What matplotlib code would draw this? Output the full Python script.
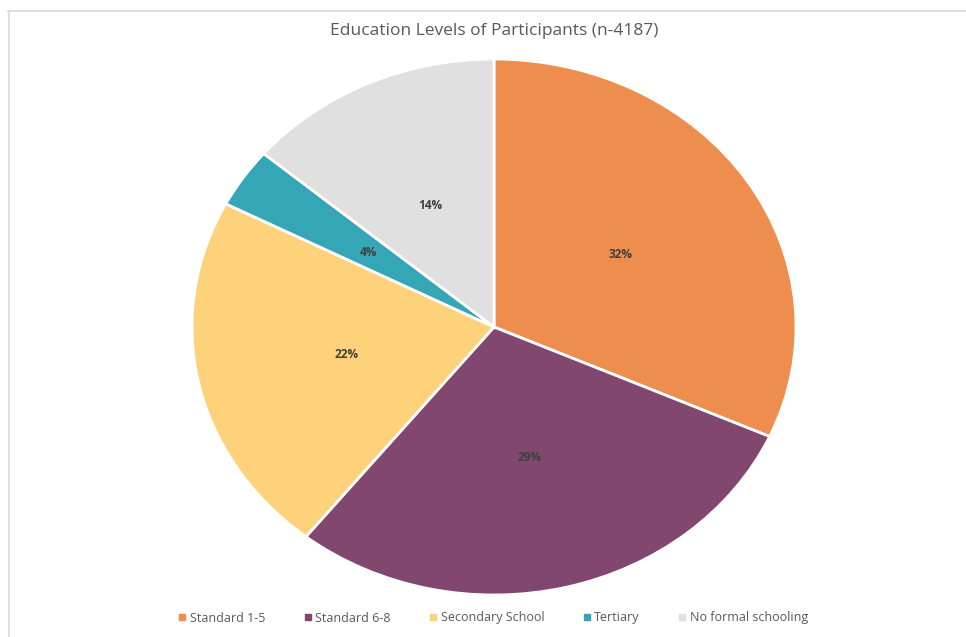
import matplotlib.pyplot as plt
from matplotlib.lines import Line2D

# Data (percent of participants)
categories = ['Standard 1-5', 'Standard 6-8', 'Secondary School', 'Tertiary', 'No formal schooling']
shares = [31.7, 29.0, 21.9, 3.6, 13.8]
colors = ['#ED8E4F', '#82476F', '#FED27A', '#35A6B5', '#E0E0E0']

plt.rcParams['font.family'] = ['Open Sans', 'DejaVu Sans']

fig = plt.figure(figsize=(9.66, 6.37), dpi=100)

# pie is a little wider than tall in the reference
cx, cy = 494 / 966, 1 - 327 / 637
rx, ry = 302 / 966, 268 / 637
ax = fig.add_axes([cx - rx, cy - ry, 2 * rx, 2 * ry])

wedges, texts, autotexts = ax.pie(
    shares, colors=colors, startangle=90, counterclock=False,
    autopct='%.0f%%', pctdistance=0.5,
    wedgeprops=dict(edgecolor='white', linewidth=2),
    textprops=dict(fontsize=8.5, fontweight='bold', color='#404040'))
ax.set_aspect('auto')
ax.set_xlim(-1, 1)
ax.set_ylim(-1, 1)

fig.text(cx, 1 - 31 / 637, 'Education Levels of Participants (n-4187)',
         ha='center', va='center', fontsize=12.5, color='#595959')

handles = [Line2D([], [], marker='s', linestyle='none', markersize=5,
                  markerfacecolor=c, markeredgecolor=c) for c in colors]
fig.legend(handles, categories, loc='center', bbox_to_anchor=(cx - 2 / 966, 1 - 618 / 637),
           ncol=5, frameon=False, fontsize=9, handletextpad=0.1,
           columnspacing=2.9, handlelength=1.0, labelcolor='#595959')

# light frame on top and left, as in the source screenshot
fig.add_artist(Line2D([8 / 966, 1], [1 - 11 / 637] * 2, color='#D9D9D9', lw=1.2))
fig.add_artist(Line2D([8.5 / 966] * 2, [0, 1 - 11 / 637], color='#D9D9D9', lw=1.2))

fig.savefig('out.png', dpi=100)
